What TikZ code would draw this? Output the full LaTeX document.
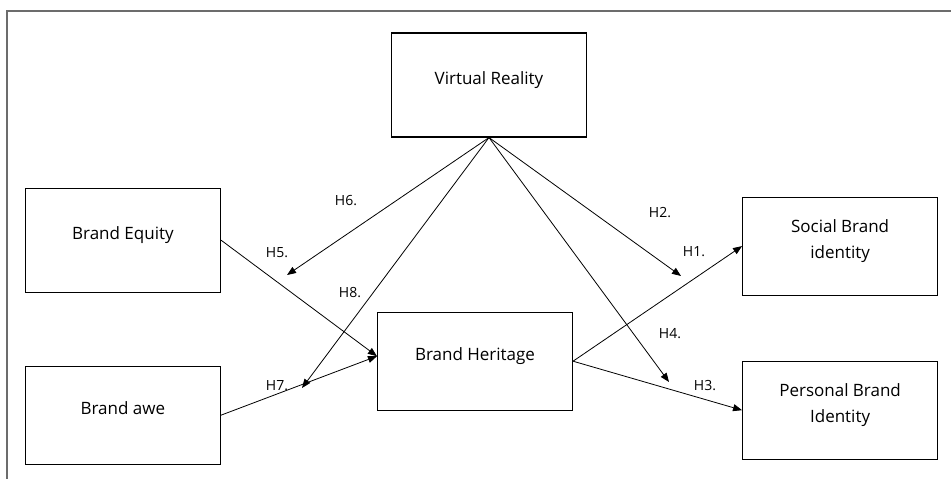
\documentclass[tikz,border=0pt]{standalone}
\usepackage{fontspec}
\setmainfont{Open Sans}
\usetikzlibrary{
	arrows.meta,
	positioning
}

\begin{document}
\begin{tikzpicture}[x=1pt,y=-1pt,->,>={Triangle[length=9pt,width=7pt]},line width=0.8pt,
        main node/.style={rectangle,draw,line width=1.1pt,minimum width=195pt,
        minimum height=98pt,align=center,font=\fontsize{17}{26}\selectfont,
        execute at end node={\rule[-14pt]{0pt}{14pt}}},
        hyp/.style={font=\fontsize{14}{16}\selectfont}]
        \useasboundingbox (0,0) rectangle (951,479);
        \draw[-,gray!85!black,line width=1.6pt] (951,11) -- (7,11) -- (7,479);

        \node[main node,minimum height=104pt] (vr) at (489,85) {Virtual Reality};
        \node[main node,minimum height=104pt] (be) [below left = 50pt and 170pt of vr] {Brand Equity};
        \node[main node] (ba) [below = 73pt of be] {Brand awe};
        \node[main node] (bh) [below right = 19pt and 156pt of be] {Brand Heritage};
        \node[main node] (sb) [below right = 59pt and 155pt of vr] {Social Brand\\identity};
        \node[main node] (pb) [below = 65pt of sb] {Personal Brand\\Identity};

        \coordinate (h6) at (287,275);
        \coordinate (h8) at (302,388);
        \coordinate (h2) at (681,276);
        \coordinate (h4) at (669,382);

          \draw (vr.south) -- (h6);
          \draw (vr.south) -- (h8);
          \draw (vr.south) -- (h2);
          \draw (vr.south) -- (h4);

          \draw (be.east) -- ([yshift=5pt]bh.west);
          \draw (ba.east) -- ([yshift=5pt]bh.west);

          \draw (bh.east) -- (sb.west);
          \draw (bh.east) -- (pb.west);

        \node[hyp] (l6) at (346,201) {H6.};
        \node[hyp] (l5) at (277,253) {H5.};
        \node[hyp] (l8) at (350,293) {H8.};
        \node[hyp] (l7) at (277,386) {H7.};
        \node[hyp] (l2) at (660,213) {H2.};
        \node[hyp] (l1) at (694,252) {H1.};
        \node[hyp] (l4) at (670,334) {H4.};
        \node[hyp] (l3) at (705,386) {H3.};

      \end{tikzpicture}
\end{document}
